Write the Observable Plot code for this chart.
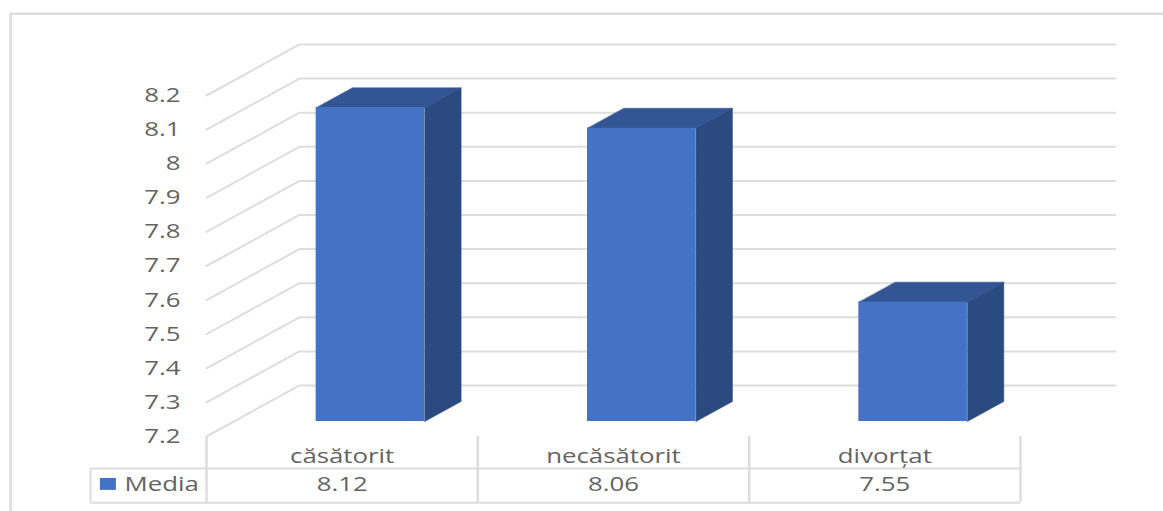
<!DOCTYPE html>
<html lang="ro">
<head>
<meta charset="utf-8">
<title>Media pe stare civilă</title>
<script src="https://cdn.jsdelivr.net/npm/d3@7"></script>
<script src="https://cdn.jsdelivr.net/npm/@observablehq/plot@0.6"></script>
<style>
  html, body { margin: 0; padding: 0; background: #fff; overflow: hidden; }
  svg { display: block; }
</style>
</head>
<body>
<div id="chart"></div>
<script>
// Values
const categories = ["căsătorit", "necăsătorit", "divorțat"];
const means = [8.12, 8.06, 7.55];
const seriesName = "Media";
const axisTicks = [7.2, 7.3, 7.4, 7.5, 7.6, 7.7, 7.8, 7.9, 8, 8.1, 8.2];
const tableEdges = [0, 1, 2, 3];

// Oblique projection of the 3D box: depth runs 0 (front) to 1 (back wall)
const yBase = 7.2;
const depthX = 0.3425;   // category units per full depth
const depthY = 0.1496;   // value units per full depth
const project = (x, y, z) => ({x: x + z * depthX, y: y + z * depthY});

// Colours
const fillFront = "#4472C4", fillSide = "#2A4A80", fillTop = "#335593";
const gridColor = "#DDDDDD", textColor = "#636363";

// Wall gridlines: up the side wall, then across the back wall
const gridPaths = axisTicks.flatMap((t) =>
  [project(0, t, 0), project(0, t, 1), {x: 3.35, y: t + depthY}].map((p) => ({...p, tick: t}))
);

// Box faces for every column
const barHalf = 0.2, barShift = 0.0035, zFront = 0.294, zBack = 0.686;
const bars = categories.map((name, i) => ({name, value: means[i], cx: i + 0.5}));
const polygon = (corners) => corners.map(([x, y, z]) => project(x, y, z));
const facesOf = (pick) => bars.flatMap((b) =>
  pick(b).map((p) => ({...p, bar: b.name}))
);
const sideFaces = facesOf((b) => {
  const r = b.cx + barShift + barHalf;
  return polygon([[r, yBase, zFront], [r, yBase, zBack], [r, b.value, zBack], [r, b.value, zFront]]);
});
const topFaces = facesOf((b) => {
  const l = b.cx + barShift - barHalf, r = b.cx + barShift + barHalf;
  return polygon([[l, b.value, zFront], [r, b.value, zFront], [r, b.value, zBack], [l, b.value, zBack]]);
});
const frontFaces = bars.map((b) => ({
  x1: project(b.cx + barShift - barHalf, yBase, zFront).x,
  x2: project(b.cx + barShift + barHalf, yBase, zFront).x,
  y1: project(0, yBase, zFront).y,
  y2: project(0, b.value, zFront).y
}));

// Data table levels under the plot, in the units of the two scales
const rowHeader = 7.106, rowBottom = 7.006, headerTextY = 7.141, valueTextY = 7.058;
const legendLeft = -0.4275, swatchX1 = -0.391, swatchX2 = -0.332, swatchY1 = 7.042, swatchY2 = 7.077, legendTextX = -0.302;
const outerLeft = -0.722, outerRight = 3.53, outerTop = 8.44, outerBottom = 6.97;

const chart = Plot.plot({
  width: 1163,
  height: 511,
  marginTop: 95,
  marginBottom: 75,
  marginLeft: 206,
  marginRight: 143,
  style: {fontFamily: "'Open Sans', sans-serif", fontSize: "20px", background: "#fff"},
  x: {domain: [0, 3], axis: null},
  y: {domain: [7.2, 8.2], axis: null},
  marks: [
    // Outer chart border: top and left edges
    Plot.ruleY([outerTop], {x1: outerLeft, x2: outerRight, stroke: gridColor, strokeWidth: 2.5}),
    Plot.ruleX([outerLeft], {y1: outerBottom, y2: outerTop, stroke: gridColor, strokeWidth: 2.5}),

    // Gridlines on the walls
    Plot.line(gridPaths, {x: "x", y: "y", z: "tick", stroke: gridColor, strokeWidth: 2}),

    // Value axis
    Plot.axisY({ticks: axisTicks, tickSize: 0, tickPadding: 26, tickFormat: (d) => String(d), color: textColor, label: null}),

    // Columns
    Plot.line(topFaces, {x: "x", y: "y", z: "bar", fill: fillTop, stroke: fillTop, strokeWidth: 0.5, curve: "linear-closed"}),
    Plot.line(sideFaces, {x: "x", y: "y", z: "bar", fill: fillSide, stroke: fillSide, strokeWidth: 0.5, curve: "linear-closed"}),
    Plot.rect(frontFaces, {x1: "x1", x2: "x2", y1: "y1", y2: "y2", fill: fillFront}),

    // Data table
    Plot.ruleX(tableEdges, {y1: rowBottom, y2: yBase, stroke: gridColor, strokeWidth: 2.5}),
    Plot.ruleY([rowHeader, rowBottom], {x1: legendLeft, x2: 3, stroke: gridColor, strokeWidth: 2}),
    Plot.ruleX([legendLeft], {y1: rowBottom, y2: rowHeader, stroke: gridColor, strokeWidth: 2}),
    Plot.text(bars, {x: "cx", y: headerTextY, text: "name", fill: textColor}),
    Plot.text(bars, {x: "cx", y: valueTextY, text: (d) => d.value.toFixed(2), fill: textColor}),
    Plot.rect([seriesName], {x1: swatchX1, x2: swatchX2, y1: swatchY1, y2: swatchY2, fill: fillFront}),
    Plot.text([seriesName], {x: legendTextX, y: valueTextY, text: (d) => d, textAnchor: "start", fill: textColor})
  ]
});

document.getElementById("chart").append(chart);

// The labels are set wide, as in the exported spreadsheet chart
d3.select(chart).selectAll("text").each(function () {
  this.setAttribute("lengthAdjust", "spacingAndGlyphs");
  this.setAttribute("textLength", (this.getComputedTextLength() * 1.29).toFixed(1));
});
</script>
</body>
</html>
